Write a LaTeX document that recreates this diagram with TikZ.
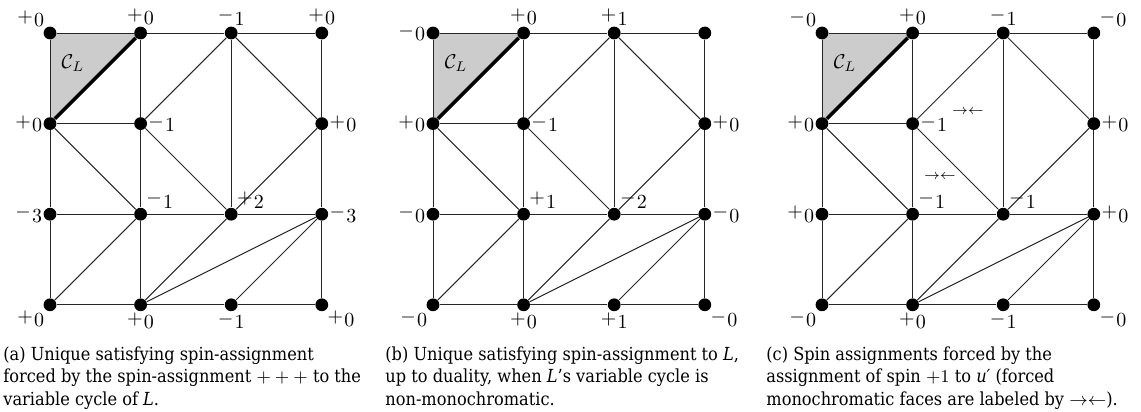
\documentclass[tikz,border=0pt]{standalone}
\usepackage{fontspec}
\newfontfamily\capfont[FakeStretch=0.9]{DejaVu Serif}
\usetikzlibrary{positioning, backgrounds}

% spin label: sign raised a little, then the count
\newcommand{\spn}[2]{\raisebox{2.2pt}{$#1$}\kern0.6pt#2}

\begin{document}
\begin{tikzpicture}[
    x=0.5pt, y=-0.5pt,
    vertex/.style={circle, fill=black, inner sep=0pt, minimum size=6.4pt},
    edge/.style={line width=0.5pt, black!85},
    varcycle/.style={line width=1.7pt},
    spin/.style={font=\normalsize, inner sep=0.3pt},
    face/.style={font=\scriptsize, inner sep=0pt},
    caption/.style={
        font=\capfont\fontsize{9}{11.25}\selectfont,
        align=left, anchor=base west, inner sep=0pt
    }
]
\useasboundingbox (0,0) rectangle (1141,412);

% The same graph three times, panels (a), (b), (c)
\foreach \p/\x in {a/50, b/433, c/822} {
    % vertices, none in the middle of the second row
    \foreach \i/\j in {0/0, 1/0, 2/0, 3/0, 0/1, 1/1, 3/1,
                       0/2, 1/2, 2/2, 3/2, 0/3, 1/3, 2/3, 3/3}
        \node[vertex] (\p\i\j) at ({\x+90.6*\i}, {33+90.6*\j}) {};

    % shaded face of the variable cycle
    \begin{scope}[on background layer]
        \fill[gray!40] (\p00.center) -- (\p10.center) -- (\p01.center) -- cycle;
    \end{scope}

    % outer square
    \draw[edge] (\p00) -- (\p10) -- (\p20) -- (\p30) -- (\p31) -- (\p32) -- (\p33)
        -- (\p23) -- (\p13) -- (\p03) -- (\p02) -- (\p01) -- (\p00);

    % inner horizontals and verticals
    \draw[edge] (\p01) -- (\p11);
    \draw[edge] (\p02) -- (\p12) -- (\p22) -- (\p32);
    \draw[edge] (\p10) -- (\p11) -- (\p12) -- (\p13);
    \draw[edge] (\p20) -- (\p22);

    % diagonals
    \draw[edge] (\p01) -- (\p12) -- (\p03);
    \draw[edge] (\p11) -- (\p20) -- (\p31) -- (\p22) -- (\p11);
    \draw[edge] (\p13) -- (\p22);
    \draw[edge] (\p13) -- (\p32) -- (\p23);

    % variable cycle
    \draw[varcycle] (\p01) -- (\p10);
    \node (\p cl) at ({\x+23}, 63) {$\mathcal{C}_L$};
}

% (a) spins
\foreach \v/\pos/\s/\n in {00/above left/+/0, 10/above/+/0, 20/above/-/1, 30/above/+/0,
        01/left/+/0, 11/right/-/1, 31/right/+/0,
        02/left/-/3, 12/above right/-/1, 22/above right/+/2, 32/right/-/3,
        03/below left/+/0, 13/below/+/0, 23/below/-/1, 33/below right/+/0}
    \node[spin, \pos=0pt of a\v] (la\v) {\spn{\s}{\n}};

% (b) spins
\foreach \v/\pos/\s/\n in {00/left/-/0, 10/above/+/0, 20/above/+/1,
        01/left/+/0, 11/right/-/1, 31/right/+/0,
        02/left/-/0, 12/above right/+/1, 22/above right/-/2, 32/right/-/0,
        03/below left/-/0, 13/below/+/0, 23/below/+/1, 33/below right/-/0}
    \node[spin, \pos=0pt of b\v] (lb\v) {\spn{\s}{\n}};

% (c) spins
\foreach \v/\pos/\s/\n in {00/above left/-/0, 10/above/+/0, 20/above/-/1, 30/above right/-/0,
        01/left/+/0, 11/right/-/1, 31/right/+/0,
        02/left/+/0, 12/above right/-/1, 22/above right/-/1, 32/right/+/0,
        03/below left/-/0, 13/below/+/0, 23/below/-/1, 33/below right/-/0}
    \node[spin, \pos=0pt of c\v] (lc\v) {\spn{\s}{\n}};

% (c) forced monochromatic faces
\node[face] (m1) at (968, 112) {$\rightarrow\leftarrow$};
\node[face] (m2) at (940, 177) {$\rightarrow\leftarrow$};

% captions (anchored at the baseline of their last line)
\node[caption] (capa) at (3, 405) {(a) Unique satisfying spin-assignment\\
    forced by the spin-assignment ${+}\:{+}\:{+}$ to the\\
    variable cycle of \textit{L}.};
\node[caption] (capb) at (385, 405) {(b) Unique satisfying spin-assignment to \textit{L},\\
    up to duality, when \textit{L}’s variable cycle is\\
    non-monochromatic.};
\node[caption] (capc) at (766, 405) {(c) Spin assignments forced by the\\
    assignment of spin $+1$ to \textit{u′} (forced\\
    monochromatic faces are labeled by $\rightarrow\leftarrow$).};

\end{tikzpicture}
\end{document}
